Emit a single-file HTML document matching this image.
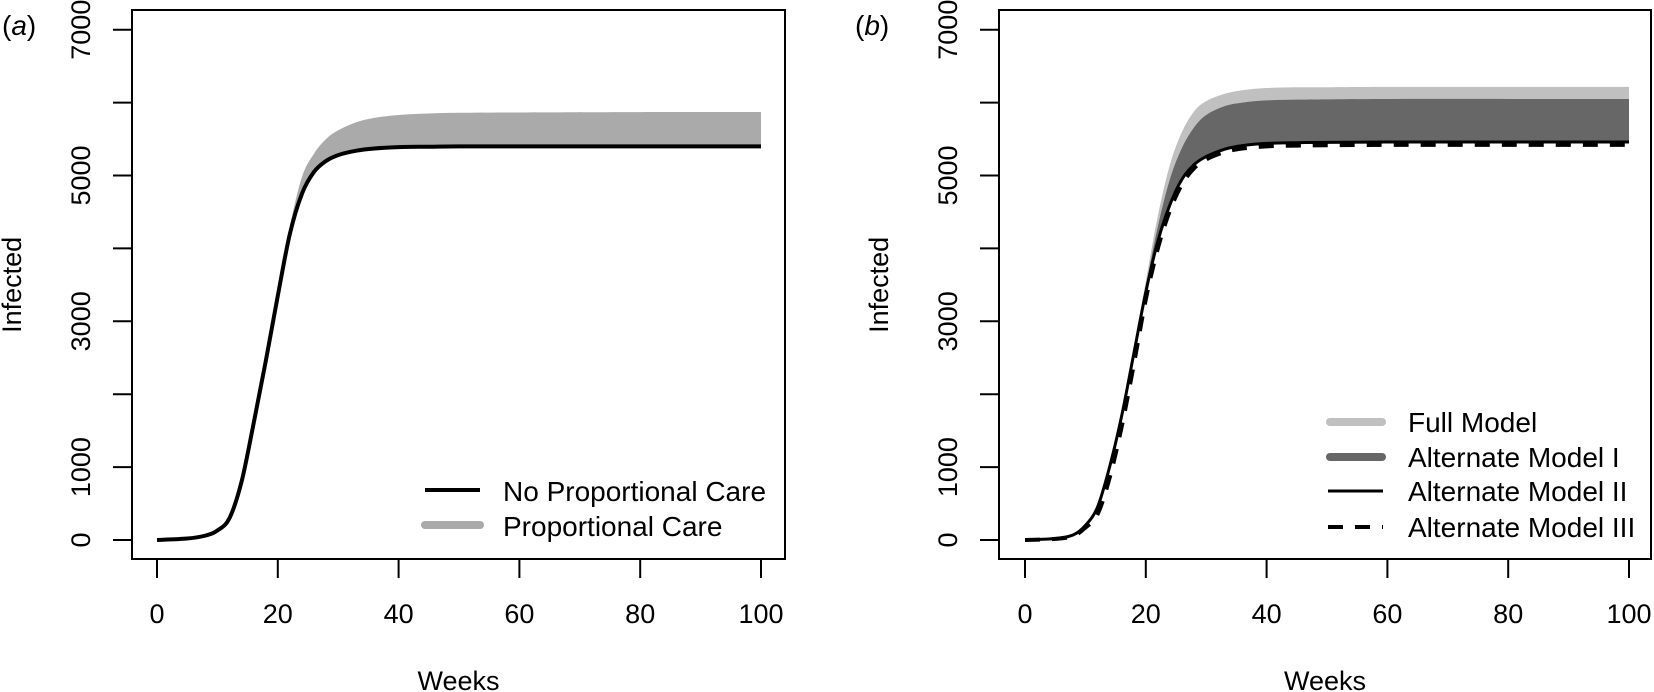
<!DOCTYPE html>
<html><head><meta charset="utf-8"><style>
html,body{margin:0;padding:0;background:#fff;}
svg{display:block;font-family:"Liberation Sans",Arial,sans-serif;}
</style></head><body>
<svg id="chart" width="1654" height="692" viewBox="0 0 1654 692"></svg>
<script>
const weeks = [0,5,8,10,12,14,16,18,20,22,24,26,28,30,33,36,40,45,50,60,80,100];
const noPropCare = [0,20,60,130,300,800,1600,2450,3350,4200,4750,5050,5200,5280,5340,5370,5390,5395,5400,5400,5400,5400];
const propCareTop = [0,20,60,130,300,800,1600,2450,3370,4300,4980,5300,5500,5620,5730,5790,5830,5850,5860,5865,5870,5870];
const fullModelTop = [0,20,70,200,450,1000,1720,2620,3550,4450,5150,5600,5880,6020,6120,6170,6200,6210,6210,6215,6215,6215];
const altModelITop = [0,20,70,200,450,1000,1710,2600,3480,4300,4950,5380,5660,5830,5950,6000,6030,6040,6045,6050,6050,6050];
const altModelII = [0,20,70,200,450,1000,1700,2550,3400,4100,4600,4950,5150,5260,5360,5410,5440,5450,5455,5460,5460,5460];
const altModelIII = [0,15,55,170,350,850,1550,2400,3300,4000,4520,4880,5100,5220,5320,5370,5400,5410,5415,5420,5420,5420];
const xTicks = [0,20,40,60,80,100];
const yTicks = [0,1000,2000,3000,4000,5000,6000,7000];
const yLabels = ["0","1000","","3000","","5000","","7000"];

const NS="http://www.w3.org/2000/svg";
const svg=document.getElementById('chart');
function el(tag,attrs,parent){const e=document.createElementNS(NS,tag);for(const k in attrs)e.setAttribute(k,attrs[k]);(parent||svg).appendChild(e);return e;}
const yS=v=>540-v*0.0729;
function pts(xS,arr){return weeks.map((w,i)=>[xS(w),yS(arr[i])]);}
function smooth(p){let d=`M${p[0][0]},${p[0][1]}`;for(let i=0;i<p.length-1;i++){const p0=p[i-1]||p[i],p1=p[i],p2=p[i+1],p3=p[i+2]||p2;
const c1=[p1[0]+(p2[0]-p0[0])/6,p1[1]+(p2[1]-p0[1])/6],c2=[p2[0]-(p3[0]-p1[0])/6,p2[1]-(p3[1]-p1[1])/6];
d+=` C${c1[0]},${c1[1]} ${c2[0]},${c2[1]} ${p2[0]},${p2[1]}`;}return d;}
function band(xS,top,bot){const a=pts(xS,top),b=pts(xS,bot).reverse();return smooth(a)+' L'+smooth(b).slice(1)+' Z';}

function axes(g,left,right,xS,label,labX){
  el('rect',{x:left,y:10,width:right-left,height:549,fill:'none',stroke:'#000','stroke-width':2},g);
  const xa=el('g',{},g);
  el('line',{x1:xS(0),x2:xS(100),y1:559,y2:559,stroke:'#000','stroke-width':2},xa);
  xTicks.forEach(t=>{el('line',{x1:xS(t),x2:xS(t),y1:559,y2:578,stroke:'#000','stroke-width':2},xa);
    const tx=el('text',{x:xS(t),y:623,'font-size':27,'text-anchor':'middle'},xa);tx.textContent=t;
    });
  const wt=el('text',{x:(left+right)/2,y:690,'font-size':27,'text-anchor':'middle'},g);wt.textContent='Weeks';
  
  const ya=el('g',{},g);
  el('line',{x1:left,x2:left,y1:yS(0),y2:yS(7000),stroke:'#000','stroke-width':2},ya);
  yTicks.forEach((t,i)=>{el('line',{x1:left-19,x2:left,y1:yS(t),y2:yS(t),stroke:'#000','stroke-width':2},ya);
    if(yLabels[i]){const tx=el('text',{x:0,y:0,'font-size':27,'text-anchor':'middle',transform:`translate(${left-42},${yS(t)}) rotate(-90)`},ya);tx.textContent=yLabels[i];
    }});
  const it=el('text',{x:0,y:0,'font-size':27,'text-anchor':'middle',transform:`translate(${left-111},${yS(3500)}) rotate(-90)`},g);it.textContent='Infected';
  
  const pl=el('text',{x:labX,y:35,'font-size':28},g);pl.innerHTML='(<tspan font-style="italic">'+label+'</tspan>)';
  
}

// Panel a
const ga=el('g',{});
const xA=w=>157+w*6.04;
const pa=el('path',{d:band(xA,propCareTop,noPropCare),fill:'#aaaaaa',stroke:'none'},ga);

const la=el('path',{d:smooth(pts(xA,noPropCare)),fill:'none',stroke:'#000','stroke-width':4},ga);

axes(ga,132,785,xA,'a',2);
const lga=el('g',{},ga);
el('line',{x1:425,x2:480,y1:490,y2:490,stroke:'#000','stroke-width':4},lga);
el('line',{x1:425,x2:480,y1:525,y2:525,stroke:'#aaaaaa','stroke-width':8,'stroke-linecap':'round'},lga);
let t=el('text',{x:503,y:501,'font-size':28},lga);t.textContent='No Proportional Care';
t=el('text',{x:503,y:536,'font-size':28},lga);t.textContent='Proportional Care';

// Panel b
const gb=el('g',{});
const xB=w=>1025+w*6.04;
const fb=el('path',{d:band(xB,fullModelTop,altModelII),fill:'#c0c0c0'},gb);

const db=el('path',{d:band(xB,altModelITop,altModelII),fill:'#676767'},gb);

const l2=el('path',{d:smooth(pts(xB,altModelII)),fill:'none',stroke:'#000','stroke-width':3},gb);

const l3=el('path',{d:smooth(pts(xB,altModelIII)),fill:'none',stroke:'#000','stroke-width':4,'stroke-dasharray':'15 12'},gb);

axes(gb,999,1651,xB,'b',855);
const lgb=el('g',{},gb);
el('line',{x1:1330,x2:1382,y1:422,y2:422,stroke:'#c0c0c0','stroke-width':8,'stroke-linecap':'round'},lgb);
el('line',{x1:1330,x2:1382,y1:457,y2:457,stroke:'#676767','stroke-width':8,'stroke-linecap':'round'},lgb);
el('line',{x1:1328,x2:1383,y1:491,y2:491,stroke:'#000','stroke-width':3},lgb);
el('line',{x1:1328,x2:1383,y1:527,y2:527,stroke:'#000','stroke-width':4,'stroke-dasharray':'15 12'},lgb);
['Full Model','Alternate Model I','Alternate Model II','Alternate Model III'].forEach((s,i)=>{
  const tx=el('text',{x:1408,y:[432,467,501,537][i],'font-size':28},lgb);tx.textContent=s;
  });
</script>
</body></html>
